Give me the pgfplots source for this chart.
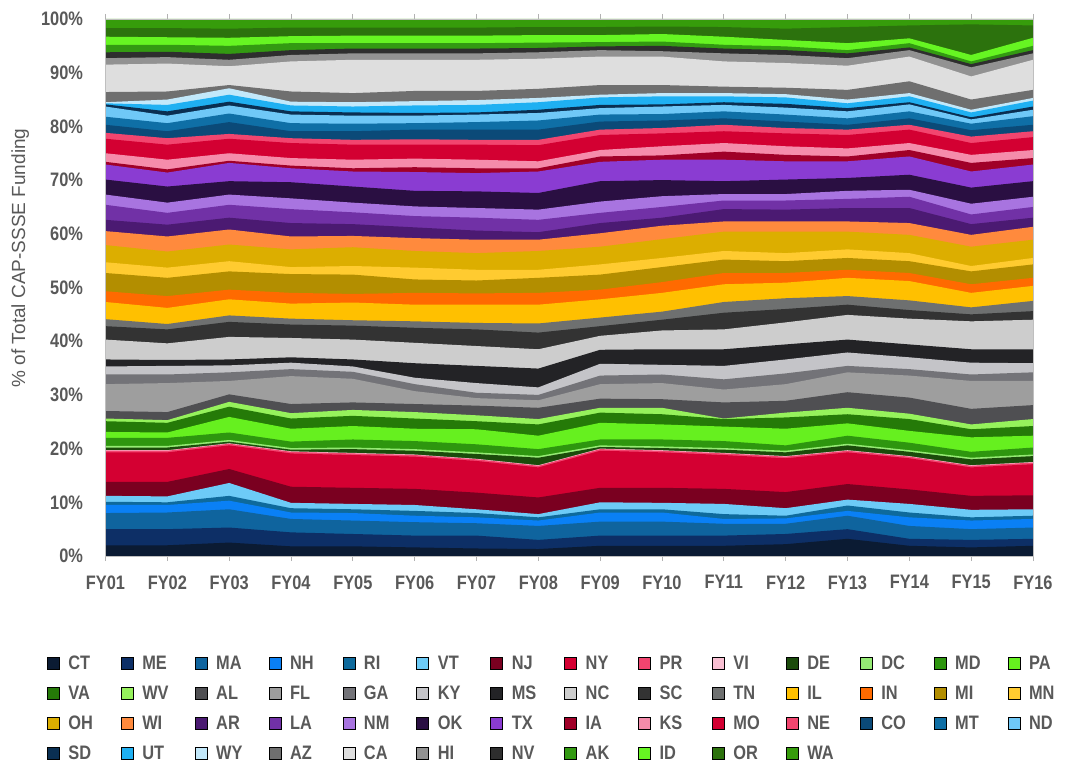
\documentclass[border=0pt]{standalone}
\usepackage{fontspec}
\setmainfont{Liberation Sans}[FakeStretch=0.84]
\newfontfamily\labfont{Liberation Sans}
\usepackage{pgfplots}
\usepackage{pgfplotstable}
\pgfplotsset{compat=1.18}
\definecolor{tickgray}{HTML}{595959}
\definecolor{cCT}{HTML}{0B1B33}
\definecolor{cME}{HTML}{0D2F66}
\definecolor{cMA}{HTML}{0F649E}
\definecolor{cNH}{HTML}{0A80F5}
\definecolor{cRI}{HTML}{0E6A9C}
\definecolor{cVT}{HTML}{6DCBF7}
\definecolor{cNJ}{HTML}{7A0020}
\definecolor{cNY}{HTML}{D40032}
\definecolor{cPR}{HTML}{F2446F}
\definecolor{cVI}{HTML}{F8BFD2}
\definecolor{cDE}{HTML}{1B4B0B}
\definecolor{cDC}{HTML}{95EB74}
\definecolor{cMD}{HTML}{2E960F}
\definecolor{cPA}{HTML}{66F01F}
\definecolor{cVA}{HTML}{257A08}
\definecolor{cWV}{HTML}{96F25C}
\definecolor{cAL}{HTML}{4F4F52}
\definecolor{cFL}{HTML}{9E9E9E}
\definecolor{cGA}{HTML}{737378}
\definecolor{cKY}{HTML}{C4C4C8}
\definecolor{cMS}{HTML}{232326}
\definecolor{cNC}{HTML}{CDCDCD}
\definecolor{cSC}{HTML}{333333}
\definecolor{cTN}{HTML}{6E7070}
\definecolor{cIL}{HTML}{FFC000}
\definecolor{cIN}{HTML}{FF6A00}
\definecolor{cMI}{HTML}{B38E00}
\definecolor{cMN}{HTML}{FFCB30}
\definecolor{cOH}{HTML}{DCAE00}
\definecolor{cWI}{HTML}{FF8A3D}
\definecolor{cAR}{HTML}{4B1A72}
\definecolor{cLA}{HTML}{7131A6}
\definecolor{cNM}{HTML}{A874E0}
\definecolor{cOK}{HTML}{2A0F42}
\definecolor{cTX}{HTML}{8A3CD2}
\definecolor{cIA}{HTML}{A00028}
\definecolor{cKS}{HTML}{F58CAB}
\definecolor{cMO}{HTML}{D30032}
\definecolor{cNE}{HTML}{F2456F}
\definecolor{cCO}{HTML}{0B4A78}
\definecolor{cMT}{HTML}{0F6FA6}
\definecolor{cND}{HTML}{6FC8F7}
\definecolor{cSD}{HTML}{0A2F52}
\definecolor{cUT}{HTML}{1FB0F2}
\definecolor{cWY}{HTML}{C2E8FA}
\definecolor{cAZ}{HTML}{6F6F6F}
\definecolor{cCA}{HTML}{DEDEDE}
\definecolor{cHI}{HTML}{929292}
\definecolor{cNV}{HTML}{2E2E2E}
\definecolor{cAK}{HTML}{339A12}
\definecolor{cID}{HTML}{66F522}
\definecolor{cOR}{HTML}{2C720D}
\definecolor{cWA}{HTML}{369C0B}
% cumulative share (%) at the top of each state's band, FY01..FY16
\pgfplotstableread{
st c1 c2 c3 c4 c5 c6 c7 c8 c9 c10 c11 c12 c13 c14 c15 c16
yr 1 2 3 4 5 6 7 8 9 10 11 12 13 14 15 16
CT 2.0 2.0 2.5 1.8 1.8 1.6 1.4 1.3 1.9 1.9 1.9 2.2 3.2 1.9 1.6 1.9
ME 5.0 5.0 5.3 4.4 4.1 3.8 3.8 3.0 3.8 3.8 3.8 4.1 5.0 3.2 3.0 3.2
MA 8.0 8.1 8.7 6.9 6.6 6.3 6.1 5.6 6.4 6.4 6.0 6.0 7.5 5.6 5.0 5.3
NH 9.5 9.5 10.3 8.1 8.0 7.5 7.2 6.6 8.1 8.1 6.9 7.0 8.4 7.2 6.6 6.9
RI 10.1 10.0 11.2 8.9 8.7 8.4 8.0 7.2 8.7 8.7 7.8 7.5 9.4 8.1 7.2 7.5
VT 11.2 11.1 13.6 9.9 9.7 9.5 8.7 7.8 10.0 9.9 9.7 8.9 10.5 9.7 8.6 8.7
NJ 13.8 13.8 16.2 12.9 12.7 12.5 11.8 10.9 12.7 12.7 12.5 11.9 13.4 12.4 11.2 11.3
NY 19.3 19.3 20.6 19.1 18.8 18.5 17.7 16.5 19.6 19.3 18.8 18.2 19.3 18.2 16.5 17.1
PR 19.6 19.6 20.9 19.4 19.1 18.8 18.0 16.8 19.9 19.6 19.1 18.5 19.6 18.5 16.8 17.4
VI 19.7 19.7 21.0 19.5 19.2 18.9 18.1 16.9 20.0 19.7 19.2 18.6 19.7 18.6 16.9 17.5
DE 20.2 20.2 21.3 19.8 19.9 19.6 19.0 18.3 20.3 20.1 19.8 19.3 20.6 19.4 18.0 18.6
DC 20.5 20.5 21.6 20.1 20.2 19.9 19.3 18.6 20.6 20.4 20.1 19.6 20.9 19.7 18.3 18.9
MD 22.0 22.0 23.0 21.3 21.7 21.4 20.8 19.9 21.7 21.7 21.4 20.6 22.4 21.1 19.4 20.2
PA 23.1 23.0 25.9 23.7 24.2 23.7 23.6 22.4 24.8 24.5 24.1 23.7 24.7 23.3 22.1 22.4
VA 25.1 24.8 27.8 25.6 26.1 25.6 25.1 24.5 26.7 26.4 25.5 25.8 26.4 25.5 23.6 24.2
WV 25.6 25.3 28.7 26.6 27.2 26.8 26.2 25.5 27.6 27.6 25.6 26.7 27.6 26.5 24.5 25.5
AL 27.0 26.8 30.1 28.3 28.6 28.3 28.0 27.6 29.3 29.2 28.6 28.9 30.5 29.5 27.4 28.1
FL 32.0 32.2 32.6 33.5 33.0 30.7 29.4 29.0 32.0 32.2 31.0 32.0 34.2 33.6 32.6 32.6
GA 33.8 33.8 34.2 34.8 34.3 32.0 30.4 30.0 33.6 33.8 32.9 34.0 35.4 34.8 33.8 34.2
KY 35.3 35.4 35.5 36.0 35.3 33.2 32.2 31.4 35.8 35.6 35.4 36.6 37.9 37.0 36.0 35.9
MS 36.6 36.5 36.6 37.0 36.6 35.9 35.4 34.9 38.4 38.5 38.5 39.4 40.3 39.4 38.5 38.5
NC 40.3 39.6 40.8 40.6 40.3 39.7 39.1 38.5 41.0 42.0 42.2 43.5 44.9 44.2 43.7 44.0
SC 42.8 42.2 43.6 43.1 42.9 42.5 42.2 41.6 42.8 44.0 45.3 46.0 46.8 45.8 45.0 45.6
TN 44.1 43.2 44.8 44.2 43.9 43.7 43.4 43.3 44.4 45.5 47.3 48.0 48.4 47.6 46.3 47.5
IL 47.3 46.2 47.8 47.0 47.2 46.8 46.8 46.8 47.8 49.0 50.6 50.9 51.8 51.2 49.0 50.3
IN 49.3 48.4 49.6 49.0 48.8 49.0 48.9 49.0 49.6 51.0 52.7 52.7 53.3 52.7 50.6 51.8
MI 52.7 51.8 53.0 52.5 52.4 51.5 51.3 51.8 52.4 53.8 55.2 54.9 55.5 54.9 53.0 54.3
MN 54.7 53.7 54.9 53.8 54.0 53.7 53.3 53.3 54.3 55.5 56.8 56.4 57.1 56.4 54.0 55.5
OH 57.9 56.7 58.0 57.1 57.5 56.8 56.4 56.8 57.6 59.0 60.4 60.4 60.4 59.8 57.6 58.9
WI 60.5 59.5 60.8 59.5 59.6 59.2 58.9 58.9 60.1 61.5 62.3 62.3 62.3 62.0 59.8 61.3
AR 62.6 61.7 63.0 62.0 61.8 61.2 60.6 60.3 62.0 63.0 64.6 64.5 64.8 64.8 61.8 63.0
LA 65.4 63.9 65.4 64.6 64.0 63.3 63.0 62.6 63.9 65.0 66.2 66.2 66.5 66.9 63.6 65.0
NM 67.3 65.8 67.3 66.6 65.8 65.1 64.8 64.5 66.0 67.0 67.4 67.4 68.0 68.2 65.6 66.9
OK 70.1 68.8 69.8 69.6 68.8 68.0 67.9 67.6 69.8 70.0 69.8 70.1 70.4 71.0 68.6 69.8
TX 72.9 71.4 73.2 72.2 71.6 71.5 71.3 71.6 73.4 73.8 73.8 73.5 73.5 74.4 71.6 72.9
IA 73.4 72.0 73.6 72.7 72.2 72.4 72.2 72.2 74.4 74.6 75.3 74.7 74.4 75.6 73.2 74.1
KS 75.0 73.8 75.0 74.1 73.8 74.0 73.8 73.5 75.6 76.3 76.9 76.3 75.9 76.9 74.7 75.6
MO 77.7 76.6 77.7 76.9 76.6 76.6 76.6 76.5 78.4 78.7 79.1 78.7 78.4 79.4 76.9 78.0
NE 78.8 77.8 78.6 77.8 77.5 77.6 77.5 77.5 79.4 79.7 80.3 79.7 79.4 80.3 78.1 79.1
CO 80.3 79.1 80.8 79.1 79.1 79.4 79.4 79.4 80.9 81.1 81.5 80.9 80.3 81.5 79.3 80.3
MT 81.8 80.6 82.4 80.6 80.5 80.6 80.8 81.1 82.2 82.3 82.8 82.2 81.5 82.8 80.5 81.9
ND 83.7 82.0 83.9 82.2 82.0 82.0 82.2 82.5 83.4 83.7 84.0 83.5 82.8 84.1 81.3 83.1
SD 84.1 82.8 84.6 82.8 82.6 82.5 82.6 83.1 84.0 84.1 84.5 84.2 83.4 84.5 81.7 83.7
UT 84.3 84.0 85.9 83.9 83.7 83.9 84.0 84.5 85.4 85.6 85.6 85.4 84.3 85.6 82.6 84.8
WY 84.5 85.0 87.1 84.6 84.5 84.7 84.9 85.3 85.9 86.2 86.2 86.0 85.0 86.2 83.1 85.3
AZ 86.4 86.5 87.7 86.5 86.2 86.6 86.6 87.0 87.7 87.7 87.4 87.2 86.8 88.4 85.0 86.8
CA 91.5 91.7 91.2 92.1 92.4 92.4 92.4 92.6 93.0 93.0 92.1 91.8 91.3 93.0 89.3 92.4
HI 92.7 92.9 92.4 93.3 93.6 93.6 93.6 93.8 94.2 94.0 93.6 93.3 92.7 94.2 91.0 93.6
NV 93.8 93.9 93.5 94.2 94.5 94.5 94.5 94.6 94.9 95.0 94.5 94.2 93.6 94.7 91.6 94.2
AK 95.2 95.2 95.0 95.5 95.5 95.5 95.5 95.6 95.7 95.8 95.2 94.9 94.2 95.5 92.1 95.0
ID 96.7 96.6 96.5 96.8 96.9 96.9 96.9 97.0 97.0 97.2 96.7 96.1 95.5 96.4 93.3 96.5
OR 98.3 98.3 98.2 98.4 98.4 98.4 98.4 98.5 98.5 98.6 98.5 98.2 98.5 98.8 99.0 98.8
WA 100 100 100 100 100 100 100 100 100 100 100 100 100 100 100 100
}\raw
\pgfplotstabletranspose[colnames from=st]\cum{\raw}
\newcommand\lay[1]{\addplot[fill=c#1, draw=none, forget plot] table[x=yr, y=#1]{\cum} \closedcycle;}
\newcommand\leg[1]{\addlegendimage{fill=c#1}\addlegendentry{\hspace*{9pt}\makebox[52.5pt][l]{#1}}}
\begin{document}
\begin{tikzpicture}
\path[use as bounding box] (0,0) rectangle (1073pt,774pt);
\begin{axis}[
  at={(105.5pt,218pt)}, anchor=south west,
  width=927.5pt, height=537pt, scale only axis,
  xmin=1, xmax=16, ymin=0, ymax=100,
  axis on top,
  axis line style={draw=black!25, line width=0.8pt},
  xtick={1,...,16},
  xticklabels={FY01,FY02,FY03,FY04,FY05,FY06,FY07,FY08,FY09,FY10,FY11,FY12,FY13,FY14,FY15,FY16},
  ytick={0,10,...,100},
  yticklabel={\pgfmathprintnumber{\tick}\%},
  /pgf/number format/assume math mode=true,
  tick align=outside,
  xtick style={draw=black!30, line width=0.8pt},
  x tick style={/pgfplots/major tick length=5pt},
  ytick style={draw=none},
  xticklabel style={font=\fontsize{19.5}{20}\selectfont\bfseries, text=tickgray, anchor=north, inner sep=0pt, yshift=-15pt},
  yticklabel style={font=\fontsize{19.5}{20}\selectfont\bfseries, text=tickgray, anchor=east, inner sep=0pt, xshift=-18pt},
  ylabel={\labfont\fontsize{19}{20}\selectfont \% of Total CAP-SSSE Funding},
  ylabel style={text=tickgray, at={(axis description cs:-0.092,0.555)}, anchor=center},
  legend columns=14,
  legend image code/.code={\fill[#1] (0pt,-6pt) rectangle (12pt,6pt);},
  legend style={at={(axis description cs:-0.0631,-0.1862)}, anchor=north west,
    draw=none, fill=none, inner sep=0pt, outer sep=0pt,
    column sep=0pt, row sep=16pt,
    font=\fontsize{19.5}{20}\selectfont\bfseries, text=tickgray,
    nodes={inner sep=0pt, outer sep=0pt, text height=14pt, text depth=0pt}},
]
\leg{CT}\leg{ME}\leg{MA}\leg{NH}\leg{RI}\leg{VT}\leg{NJ}\leg{NY}\leg{PR}\leg{VI}\leg{DE}\leg{DC}\leg{MD}\leg{PA}
\leg{VA}\leg{WV}\leg{AL}\leg{FL}\leg{GA}\leg{KY}\leg{MS}\leg{NC}\leg{SC}\leg{TN}\leg{IL}\leg{IN}\leg{MI}\leg{MN}
\leg{OH}\leg{WI}\leg{AR}\leg{LA}\leg{NM}\leg{OK}\leg{TX}\leg{IA}\leg{KS}\leg{MO}\leg{NE}\leg{CO}\leg{MT}\leg{ND}
\leg{SD}\leg{UT}\leg{WY}\leg{AZ}\leg{CA}\leg{HI}\leg{NV}\leg{AK}\leg{ID}\leg{OR}\leg{WA}
\lay{WA}\lay{OR}\lay{ID}\lay{AK}\lay{NV}\lay{HI}\lay{CA}\lay{AZ}\lay{WY}\lay{UT}\lay{SD}\lay{ND}\lay{MT}\lay{CO}
\lay{NE}\lay{MO}\lay{KS}\lay{IA}\lay{TX}\lay{OK}\lay{NM}\lay{LA}\lay{AR}\lay{WI}\lay{OH}\lay{MN}\lay{MI}\lay{IN}
\lay{IL}\lay{TN}\lay{SC}\lay{NC}\lay{MS}\lay{KY}\lay{GA}\lay{FL}\lay{AL}\lay{WV}\lay{VA}\lay{PA}\lay{MD}\lay{DC}
\lay{DE}\lay{VI}\lay{PR}\lay{NY}\lay{NJ}\lay{VT}\lay{RI}\lay{NH}\lay{MA}\lay{ME}\lay{CT}
\end{axis}
\end{tikzpicture}
\end{document}
